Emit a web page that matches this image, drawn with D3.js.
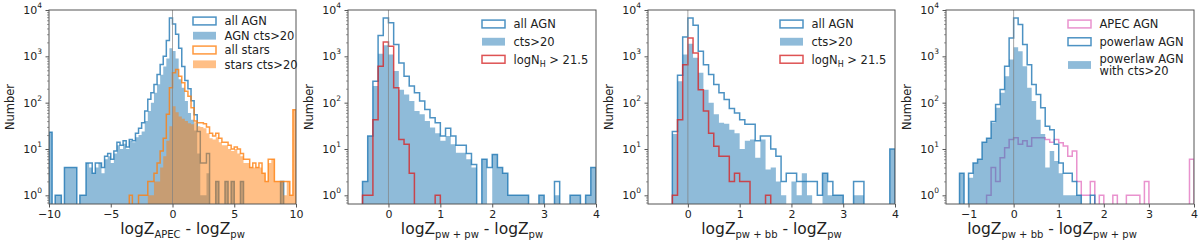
<!DOCTYPE html>
<html>
<head>
<meta charset="utf-8">
<script src="https://cdn.jsdelivr.net/npm/d3@7"></script>
<style>
  body { margin: 0; background: #fff; }
  svg { display: block; font-family: "DejaVu Sans", sans-serif; }
</style>
</head>
<body>
<div id="chart"></div>
<script>
// ---- data: histogram counts ----
// panel 1: bins of 0.25 from -10 to 10
const p1Bins = { start: -10, width: 0.25 };
const p1AllAgn = [
  23, 0, 1, 1, 0, 4, 4, 4, 4, 0,
  1, 1, 5, 5, 3, 5, 5, 4, 7, 8,
  6, 9, 14, 12, 15, 11, 16, 15, 22, 28,
  37, 66, 118, 163, 246, 405, 670, 1000, 2200, 6700,
  5000, 3000, 1500, 600, 300, 200, 110, 55, 24, 5,
  5, 8, 0, 0, 2, 0, 0, 2, 0, 2,
  0, 0, 2, 0, 0, 0, 0, 0, 0, 0,
  0, 0, 0, 0, 0, 2, 0, 0, 0, 0
];
const p1AgnCts = [
  23, 0, 1, 1, 0, 4, 4, 4, 4, 0,
  1, 1, 5, 4, 3, 4, 5, 3, 6, 7,
  5, 8, 12, 10, 13, 10, 15, 14, 18, 20,
  24, 40, 66, 100, 163, 250, 400, 600, 900, 1500,
  1300, 900, 320, 210, 108, 60, 43, 25, 8, 1,
  1, 3, 0, 0, 2, 0, 0, 2, 0, 2,
  0, 0, 2, 0, 0, 0, 0, 0, 0, 0,
  0, 0, 0, 0, 0, 2, 0, 0, 0, 0
];
const p1AllStars = [
  0, 0, 0, 0, 0, 0, 0, 0, 0, 0,
  0, 0, 0, 0, 0, 0, 0, 0, 0, 0,
  0, 0, 0, 0, 0, 0, 1, 0, 0, 1,
  1, 1, 2, 2, 3, 5, 9, 17, 56, 210,
  440, 520, 370, 270, 177, 138, 78, 40, 37, 37,
  35, 30, 22, 19, 22, 17, 14, 14, 12, 10,
  11, 10, 8, 6, 6, 4, 5, 4, 5, 3,
  2, 6, 6, 2, 2, 2, 2, 2, 1, 70
];
const p1StarsCts = [
  0, 0, 0, 0, 0, 0, 0, 0, 0, 0,
  0, 0, 0, 0, 0, 0, 0, 0, 0, 0,
  0, 0, 0, 0, 0, 0, 0, 0, 0, 0,
  0, 0, 1, 1, 2, 2, 4, 7, 15, 31,
  84, 62, 50, 45, 40, 36, 34, 38, 31, 30,
  28, 22, 17, 16, 18, 14, 12, 12, 10, 9,
  10, 8, 7, 5, 5, 4, 4, 4, 4, 3,
  2, 5, 6, 2, 2, 2, 1, 2, 1, 70
];

// panel 2: bins of 0.1 from -0.5 to 4
const p2Bins = { start: -0.5, width: 0.1 };
const p2AllAgn = [
  2, 19, 290, 2800, 6700, 5300, 1800, 720, 370, 228,
  163, 108, 71, 47, 37, 19, 28, 19, 12, 12,
  8, 4.6, 0, 6, 4, 7.6, 4, 3, 1, 1,
  1, 1, 0, 0, 1, 0, 0, 2, 0, 0,
  1, 1, 0, 1, 4
];
const p2Cts = [
  2, 19, 228, 1130, 1740, 1100, 480, 191, 150, 108,
  66, 56, 40, 29, 22, 15, 19, 12.6, 8.3, 8.3,
  6, 4, 0, 6, 0, 7.6, 4, 3, 1, 1,
  1, 1, 0, 0, 1, 0, 0, 1, 0, 0,
  1, 1, 0, 1, 4
];
const p2HighNH = [
  1, 1, 43, 610, 2050, 1650, 210, 16, 12.6, 3,
  0, 0, 0, 0, 1, 0, 0, 0, 0, 0,
  0, 0, 0, 0, 0, 0, 0, 0, 0, 0,
  0, 0, 0, 0, 0, 0, 0, 0, 0, 0,
  0, 0, 0, 0, 0
];

// panel 3: bins of 0.1 from -0.3 to 4
const p3Bins = { start: -0.3, width: 0.1 };
const p3AllAgn = [
  24, 390, 2630, 6750, 4700, 1290, 660, 405, 246, 163,
  117, 75, 60, 43, 34, 34, 15, 19, 19, 10,
  7, 2, 3, 3, 2, 2, 2, 2, 1, 3,
  2, 1, 1, 0, 0, 2, 2, 0, 0, 0,
  0, 0, 10
];
const p3Cts = [
  21, 290, 1090, 1860, 930, 440, 191, 100, 56, 37,
  35, 26, 22, 10, 15, 16, 6.5, 16, 3.6, 4,
  2, 1, 0, 2, 1, 3, 1, 0, 0, 3,
  1, 1, 1, 0, 0, 1, 1, 0, 0, 0,
  0, 0, 10
];
const p3HighNH = [
  1, 43, 660, 2500, 1180, 191, 66, 22, 11.5, 7,
  7, 2, 3, 2, 2, 0, 0, 0, 1, 0,
  0, 0, 0, 0, 0, 0, 0, 0, 0, 0,
  0, 0, 0, 0, 0, 0, 0, 0, 0, 0,
  0, 0, 0
];

// panel 4: bins of 0.1 from -1.2 to 4
const p4Bins = { start: -1.2, width: 0.1 };
const p4ApecAgn = [
  0, 0, 0, 0, 0, 0, 1, 4, 2, 6.5,
  10.6, 16, 17.5, 12.6, 15, 11.5, 17.5, 17.5, 17.5, 16,
  14, 16, 13.6, 11.6, 7, 9, 2, 1, 1, 2,
  0, 1, 0, 0, 1, 0, 0, 1, 1, 1,
  0, 2, 0, 0, 0, 0, 0, 0, 0, 0,
  0, 6
];
const p4PowAgn = [
  3, 0, 3, 5, 6, 14, 17, 39, 91, 192,
  610, 2500, 6700, 4850, 1790, 660, 246, 150, 78, 31,
  26, 12.6, 5, 3, 3, 2, 1, 0, 0, 1,
  0, 0, 0, 0, 0, 0, 0, 0, 0, 0,
  0, 0, 0, 0, 0, 0, 0, 0, 0, 0,
  0, 0
];
const p4PowCts = [
  3, 0, 2.4, 5, 6, 14, 17, 37, 78, 163,
  370, 850, 1580, 1290, 610, 210, 108, 43, 21, 4,
  9, 5.5, 3, 1, 1, 1, 1, 0, 0, 0,
  0, 0, 0, 0, 0, 0, 0, 0, 0, 0,
  0, 0, 0, 0, 0, 0, 0, 0, 0, 0,
  0, 0
];

const yMajor = [1, 10, 100, 1000, 10000];
const yTickExp = ["0", "1", "2", "3", "4"];

// ---- layout ----
const width = 1200;
const height = 241;
const plotTop = 10;
const plotBottom = 204;

const blue = "#1f77b4", orange = "#ff7f0e", red = "#d62728", pink = "#e377c2";

const panels = [
  {
    left: 49, right: 296, domain: [-10, 10], ticks: [-10, -5, 0, 5, 10],
    xlabel: [["logZ"], ["APEC", "sub"], [" - logZ"], ["pw", "sub"]], labelShift: 10,
    hists: [
      { bins: p1Bins, counts: p1AllAgn, type: "step", color: blue },
      { bins: p1Bins, counts: p1AgnCts, type: "fill", color: blue },
      { bins: p1Bins, counts: p1AllStars, type: "step", color: orange },
      { bins: p1Bins, counts: p1StarsCts, type: "fill", color: orange }
    ],
    legend: {
      dx: -103, rows: [21, 35.7, 50, 64.3], items: [
        { type: "step", color: blue, text: [["all AGN"]] },
        { type: "fill", color: blue, text: [["AGN cts>20"]] },
        { type: "step", color: orange, text: [["all stars"]] },
        { type: "fill", color: orange, text: [["stars cts>20"]] }
      ]
    }
  },
  {
    left: 348, right: 596, domain: [-0.78, 4], ticks: [0, 1, 2, 3, 4],
    xlabel: [["logZ"], ["pw + pw", "sub"], [" - logZ"], ["pw", "sub"]], labelShift: 0,
    hists: [
      { bins: p2Bins, counts: p2AllAgn, type: "step", color: blue },
      { bins: p2Bins, counts: p2Cts, type: "fill", color: blue },
      { bins: p2Bins, counts: p2HighNH, type: "step", color: red }
    ],
    legend: {
      dx: -114, rows: [24, 41.7, 59.3], items: [
        { type: "step", color: blue, text: [["all AGN"]] },
        { type: "fill", color: blue, text: [["cts>20"]] },
        { type: "step", color: red, text: [["logN"], ["H", "sub"], [" > 21.5"]] }
      ]
    }
  },
  {
    left: 648, right: 895, domain: [-0.77, 4], ticks: [0, 1, 2, 3, 4],
    xlabel: [["logZ"], ["pw + bb", "sub"], [" - logZ"], ["pw", "sub"]], labelShift: 0,
    hists: [
      { bins: p3Bins, counts: p3AllAgn, type: "step", color: blue },
      { bins: p3Bins, counts: p3Cts, type: "fill", color: blue },
      { bins: p3Bins, counts: p3HighNH, type: "step", color: red }
    ],
    legend: {
      dx: -115, rows: [24, 41.7, 59.3], items: [
        { type: "step", color: blue, text: [["all AGN"]] },
        { type: "fill", color: blue, text: [["cts>20"]] },
        { type: "step", color: red, text: [["logN"], ["H", "sub"], [" > 21.5"]] }
      ]
    }
  },
  {
    left: 946, right: 1194, domain: [-1.5, 4], ticks: [-1, 0, 1, 2, 3, 4],
    xlabel: [["logZ"], ["pw + bb", "sub"], [" - logZ"], ["pw + pw", "sub"]], labelShift: -18,
    hists: [
      { bins: p4Bins, counts: p4ApecAgn, type: "step", color: pink },
      { bins: p4Bins, counts: p4PowAgn, type: "step", color: blue },
      { bins: p4Bins, counts: p4PowCts, type: "fill", color: blue }
    ],
    legend: {
      dx: -126, rows: [24, 41.7, 65], items: [
        { type: "step", color: pink, text: [["APEC AGN"]] },
        { type: "step", color: blue, text: [["powerlaw AGN"]] },
        { type: "fill", color: blue, text: [["powerlaw AGN"]], text2: "with cts>20" }
      ]
    }
  }
];

const svg = d3
  .select("#chart")
  .append("svg")
  .attr("width", width)
  .attr("height", height);

const y = d3.scaleLog().domain([0.65, 1e4]).range([plotBottom, plotTop]);
const yMinor = [0.7, 0.8, 0.9];
yMajor.slice(0, -1).forEach((m) => {
  for (let k = 2; k <= 9; k++) yMinor.push(m * k);
});

const fmtTick = (d) => (d < 0 ? "\u2212" + Math.abs(d) : String(d));

panels.forEach((p, pi) => {
  const x = d3.scaleLinear().domain(p.domain).range([p.left, p.right]);
  const g = svg.append("g");

  const clipId = "clip" + pi;
  svg
    .append("clipPath")
    .attr("id", clipId)
    .append("rect")
    .attr("x", p.left)
    .attr("y", plotTop)
    .attr("width", p.right - p.left)
    .attr("height", plotBottom - plotTop);

  const plot = g.append("g").attr("clip-path", `url(#${clipId})`);
  const yv = (c) => (c > 0 ? y(c) : plotBottom + 2);

  // Histograms
  p.hists.forEach((h) => {
    const edges = h.counts.map((c, i) => h.bins.start + i * h.bins.width);
    const end = h.bins.start + h.counts.length * h.bins.width;
    if (h.type === "fill") {
      const pts = h.counts.map((c, i) => [edges[i], c]);
      pts.push([end, h.counts[h.counts.length - 1]]);
      const area = d3
        .area()
        .curve(d3.curveStepAfter)
        .x((d) => x(d[0]))
        .y0(plotBottom + 2)
        .y1((d) => yv(d[1]));
      plot
        .append("path")
        .attr("d", area(pts))
        .attr("fill", h.color)
        .attr("fill-opacity", 0.5);
    } else {
      const pts = [[edges[0], 0]];
      h.counts.forEach((c, i) => {
        pts.push([edges[i], c]);
        pts.push([i + 1 < h.counts.length ? edges[i + 1] : end, c]);
      });
      pts.push([end, 0]);
      const line = d3
        .line()
        .x((d) => x(d[0]))
        .y((d) => yv(d[1]));
      plot
        .append("path")
        .attr("d", line(pts))
        .attr("fill", "none")
        .attr("stroke", h.color)
        .attr("stroke-opacity", 0.8)
        .attr("stroke-width", 1.5);
    }
  });

  // Vertical line at zero
  plot
    .append("line")
    .attr("x1", x(0))
    .attr("x2", x(0))
    .attr("y1", plotTop)
    .attr("y2", plotBottom)
    .attr("stroke", "#808080")
    .attr("stroke-opacity", 0.7)
    .attr("stroke-width", 1);

  // Frame
  g.append("rect")
    .attr("x", p.left)
    .attr("y", plotTop)
    .attr("width", p.right - p.left)
    .attr("height", plotBottom - plotTop)
    .attr("fill", "none")
    .attr("stroke", "#555")
    .attr("stroke-width", 1);

  // X Axis
  const xAxis = g
    .append("g")
    .attr("transform", `translate(0,${plotBottom})`)
    .call(d3.axisBottom(x).tickValues(p.ticks).tickSize(3.5).tickPadding(3).tickFormat(fmtTick));
  xAxis.select(".domain").remove();
  xAxis.selectAll("line").attr("stroke", "#555");
  xAxis
    .selectAll("text")
    .attr("font-size", 11)
    .attr("font-family", "DejaVu Sans, sans-serif")
    .attr("fill", "#222");

  // Y Axis: major and minor ticks
  const yAxis = g
    .append("g")
    .attr("transform", `translate(${p.left},0)`)
    .call(d3.axisLeft(y).tickValues(yMajor).tickSize(3.5).tickFormat(""));
  yAxis.select(".domain").remove();
  yAxis.selectAll("line").attr("stroke", "#555");
  const yAxisMinor = g
    .append("g")
    .attr("transform", `translate(${p.left},0)`)
    .call(d3.axisLeft(y).tickValues(yMinor).tickSize(2).tickFormat(""));
  yAxisMinor.select(".domain").remove();
  yAxisMinor.selectAll("line").attr("stroke", "#555").attr("stroke-width", 0.6);

  yMajor.forEach((v, i) => {
    const t = g
      .append("text")
      .attr("x", p.left - 7)
      .attr("y", y(v) + 4)
      .attr("text-anchor", "end")
      .attr("font-size", 11)
      .attr("fill", "#222");
    t.append("tspan").text("10");
    t.append("tspan").attr("font-size", 7.5).attr("dy", -6).text(yTickExp[i]);
  });

  // Y label
  g.append("text")
    .attr("transform", `translate(${p.left - 35},${(plotTop + plotBottom) / 2}) rotate(-90)`)
    .attr("text-anchor", "middle")
    .attr("font-size", 11.5)
    .attr("fill", "#222")
    .text("Number");

  // X label with subscripts
  const xl = g
    .append("text")
    .attr("x", (p.left + p.right) / 2 + p.labelShift)
    .attr("y", 234)
    .attr("text-anchor", "middle")
    .attr("font-size", 15.5)
    .attr("fill", "#222");
  p.xlabel.forEach((part, k) => {
    const t = xl.append("tspan").text(part[0]);
    if (part[1] === "sub") t.attr("font-size", 10).attr("dy", 3.5);
    else if (k > 0) t.attr("dy", -3.5);
  });

  // Legend
  const lx = p.right + p.legend.dx;
  p.legend.items.forEach((it, i) => {
    const cy = p.legend.rows[i];
    const r = g
      .append("rect")
      .attr("x", lx)
      .attr("y", cy - 3.9)
      .attr("width", 23)
      .attr("height", 7.8);
    if (it.type === "fill") {
      r.attr("fill", it.color).attr("fill-opacity", 0.5);
    } else {
      r.attr("fill", "none")
        .attr("stroke", it.color)
        .attr("stroke-opacity", 0.8)
        .attr("stroke-width", 1.5);
    }
    const tx = g
      .append("text")
      .attr("x", lx + 31.5)
      .attr("y", it.text2 ? cy - 1.7 : cy + 4.2)
      .attr("font-size", 11.5)
      .attr("fill", "#222");
    it.text.forEach((part, k) => {
      const t = tx.append("tspan").text(part[0]);
      if (part[1] === "sub") t.attr("font-size", 8).attr("dy", 3);
      else if (k > 0) t.attr("dy", -3);
    });
    if (it.text2) {
      g.append("text")
        .attr("x", lx + 31.5)
        .attr("y", cy + 10)
        .attr("font-size", 11.5)
        .attr("fill", "#222")
        .text(it.text2);
    }
  });
});
</script>
</body>
</html>
